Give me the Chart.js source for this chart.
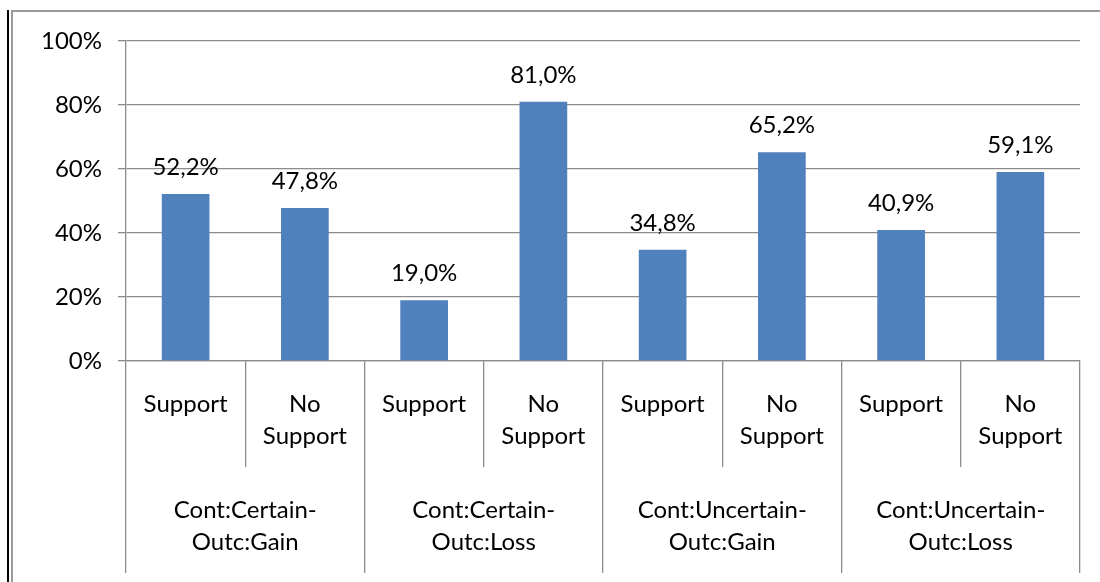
<!DOCTYPE html>
<html>
<head>
<meta charset="utf-8">
<script src="https://cdn.jsdelivr.net/npm/chart.js@4/dist/chart.umd.min.js"></script>
<style>
  html, body { margin: 0; padding: 0; background: #fff; }
  #wrap { width: 1100px; height: 582px; position: relative; }
</style>
</head>
<body>
<div id="wrap"><canvas id="chart" width="1100" height="582"></canvas></div>
<script>
// Responses per condition: share of participants (percent)
const responseLabels = [
  'Support', ['No', 'Support'],
  'Support', ['No', 'Support'],
  'Support', ['No', 'Support'],
  'Support', ['No', 'Support']
];
const conditionLabels = [
  ['Cont:Certain-', 'Outc:Gain'],
  ['Cont:Certain-', 'Outc:Loss'],
  ['Cont:Uncertain-', 'Outc:Gain'],
  ['Cont:Uncertain-', 'Outc:Loss']
];
const shareValues = [52.2, 47.8, 19.0, 81.0, 34.8, 65.2, 40.9, 59.1];
const yTicks = [0, 20, 40, 60, 80, 100];

const FONT = 'Lato, "Liberation Sans", sans-serif';
const GRID = '#8c8c8c';
const BAR = '#4f81bd';

const fmt = v => v.toFixed(1).replace('.', ',') + '%';

// Frame lines around the chart object
const framePlugin = {
  id: 'frame',
  beforeDraw(chart) {
    const ctx = chart.ctx;
    ctx.save();
    ctx.fillStyle = '#fff';
    ctx.fillRect(0, 0, chart.width, chart.height);
    ctx.strokeStyle = '#000';
    ctx.lineWidth = 2;
    ctx.beginPath();
    ctx.moveTo(8, 10);
    ctx.lineTo(8, chart.height);
    ctx.stroke();
    ctx.strokeStyle = '#9a9a9a';
    ctx.lineWidth = 2;
    ctx.beginPath();
    ctx.moveTo(12, chart.height);
    ctx.lineTo(12, 11);
    ctx.lineTo(chart.width, 11);
    ctx.stroke();
    ctx.restore();
  }
};

// Value labels above each bar
const valueLabelPlugin = {
  id: 'valueLabels',
  afterDatasetsDraw(chart) {
    const ctx = chart.ctx;
    const meta = chart.getDatasetMeta(0);
    ctx.save();
    ctx.font = '24px ' + FONT;
    ctx.fillStyle = '#000';
    ctx.textAlign = 'center';
    ctx.textBaseline = 'alphabetic';
    meta.data.forEach((bar, i) => {
      ctx.fillText(fmt(shareValues[i]), bar.x, bar.y - 19);
    });
    ctx.restore();
  }
};

new Chart(document.getElementById('chart'), {
  type: 'bar',
  data: {
    labels: responseLabels,
    datasets: [{
      data: shareValues,
      backgroundColor: BAR,
      borderWidth: 0,
      barPercentage: 0.4,
      categoryPercentage: 1.0
    }]
  },
  options: {
    responsive: false,
    animation: false,
    layout: { padding: { left: 0, top: 41, right: 20, bottom: 9 } },
    plugins: { legend: { display: false }, tooltip: { enabled: false } },
    scales: {
      y: {
        min: 0,
        max: 100,
        afterBuildTicks(scale) { scale.ticks = yTicks.map(v => ({ value: v })); },
        afterFit(scale) { scale.width = 126; },
        ticks: {
          callback: v => v + '%',
          color: '#000',
          font: { family: FONT, size: 24 },
          padding: 16
        },
        grid: { color: GRID, lineWidth: 1.3, tickLength: 8, drawTicks: true },
        border: { color: GRID, width: 1.3 }
      },
      x: {
        type: 'category',
        position: 'bottom',
        weight: 0,
        afterFit(scale) { scale.height = 106; },
        ticks: {
          color: '#000',
          font: { family: FONT, size: 24, lineHeight: 1.35 },
          maxRotation: 0,
          autoSkip: false,
          padding: -79
        },
        grid: {
          offset: true,
          drawOnChartArea: false,
          drawTicks: true,
          tickLength: 106,
          color: GRID,
          lineWidth: 1.3
        },
        border: { color: GRID, width: 1.3 }
      },
      x2: {
        type: 'category',
        position: 'bottom',
        weight: 1,
        labels: conditionLabels,
        afterFit(scale) { scale.height = 106; },
        ticks: {
          color: '#000',
          font: { family: FONT, size: 24, lineHeight: 1.35 },
          maxRotation: 0,
          autoSkip: false,
          padding: -79
        },
        grid: {
          offset: true,
          drawOnChartArea: false,
          drawTicks: true,
          tickLength: 106,
          color: GRID,
          lineWidth: 1.3
        },
        border: { display: false }
      }
    }
  },
  plugins: [framePlugin, valueLabelPlugin]
});
</script>
</body>
</html>
